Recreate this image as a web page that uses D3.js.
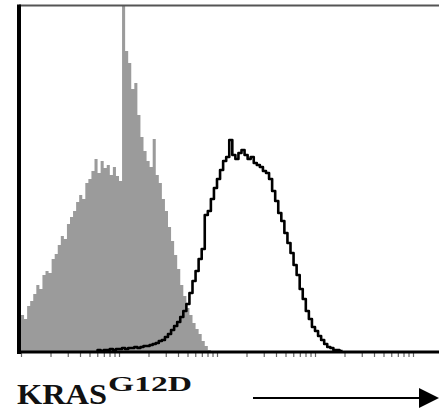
<!DOCTYPE html>
<html>
<head>
<meta charset="utf-8">
<script src="https://cdn.jsdelivr.net/npm/d3@7"></script>
<style>
  body { margin: 0; background: #fff; }
  svg { display: block; }
</style>
</head>
<body>
<script>
// histogram data, 8 channels per bin, 1024 channels = 4 decades
const binWidth = 8;
const grayStart = 0;     // isotype / control (filled)
const grayCounts = [36, 32, 45, 50, 57, 66, 62, 76, 80, 78, 92, 97, 106, 115, 112, 127,
    134, 140, 149, 156, 152, 168, 172, 180, 192, 178, 190, 183, 186, 176, 184, 175,
    170, 345, 300, 288, 262, 268, 236, 214, 200, 190, 184, 212, 176, 168, 152, 140,
    124, 110, 96, 82, 66, 55, 43, 36, 28, 22, 17, 10, 5, 1];
const blackStart = 200;  // KRAS G12D stained (open)
const blackCounts = [1, 0, 1, 1, 2, 1, 2, 2, 3, 2, 3, 3, 4, 3, 4, 5, 5, 6, 7, 8,
    10, 11, 14, 17, 21, 25, 29, 34, 40, 47, 58, 70, 80, 92, 102, 136, 140, 152, 163, 172,
    181, 190, 194, 211, 196, 192, 198, 201, 196, 192, 194, 188, 186, 184, 180, 178, 172, 160, 150, 138,
    130, 118, 108, 98, 86, 76, 62, 52, 40, 32, 24, 20, 15, 11, 7, 4, 3, 1, 1, 0];
const decades = [0, 1, 2, 3, 4];
const axisLabel = "KRAS";
const axisSup = "G12D";

const width = 439, height = 411;
const mLeft = 21, mTop = 6, mBottom = 351;

let svg = d3.select("body")
    .append("svg")
    .attr("width", width)
    .attr("height", height);

let x = d3.scaleLinear()
    .domain([0, 1024])
    .range([mLeft, mLeft + 392]);

let xLog = d3.scaleLog()
    .domain([1, 1e4])
    .range([mLeft, mLeft + 392]);

let y = d3.scaleLinear()
    .domain([0, 345])
    .range([mBottom, mTop]);

function toPoints(start, counts) {
    let pts = counts.map((c, i) => [start + i * binWidth, c]);
    pts.push([start + counts.length * binWidth, 0]);
    return pts;
}

svg.append("clipPath").attr("id", "plot")
    .append("rect")
    .attr("x", mLeft).attr("y", mTop)
    .attr("width", width - mLeft).attr("height", mBottom - mTop);

let plot = svg.append("g").attr("clip-path", "url(#plot)");

// filled grey histogram
plot.append("path")
    .datum(toPoints(grayStart, grayCounts))
    .attr("fill", "#9b9b9b")
    .attr("d", d3.area()
        .curve(d3.curveStepAfter)
        .x(d => x(d[0]))
        .y0(y(0))
        .y1(d => y(d[1])));

// open black histogram
plot.append("path")
    .datum([[blackStart, 0]].concat(toPoints(blackStart, blackCounts)))
    .attr("fill", "none")
    .attr("stroke", "#000")
    .attr("stroke-width", 2.6)
    .attr("stroke-linejoin", "round")
    .attr("d", d3.line()
        .curve(d3.curveStepAfter)
        .x(d => x(d[0]))
        .y(d => y(d[1])));

// log tick marks under the axis
let tickVals = [];
decades.forEach(p => {
    for (let m = 1; m <= 9; m++) tickVals.push(m * Math.pow(10, p));
});
let ax = svg.append("g")
    .attr("transform", "translate(0," + (mBottom + 2) + ")")
    .call(d3.axisBottom(xLog).tickValues(tickVals.filter(v => xLog(v) <= width)).tickSize(4).tickFormat(""));
ax.select(".domain").remove();
ax.selectAll("line").attr("stroke", "#666").attr("stroke-width", 1.2);

// frame
svg.append("line")
    .attr("x1", mLeft - 2).attr("x2", width)
    .attr("y1", mTop - 0.5).attr("y2", mTop - 0.5)
    .attr("stroke", "#555").attr("stroke-width", 2);
svg.append("line")
    .attr("x1", mLeft - 2).attr("x2", mLeft - 2)
    .attr("y1", mTop - 1.5).attr("y2", mBottom + 3)
    .attr("stroke", "#000").attr("stroke-width", 4);
svg.append("line")
    .attr("x1", mLeft - 4).attr("x2", width)
    .attr("y1", mBottom + 1).attr("y2", mBottom + 1)
    .attr("stroke", "#000").attr("stroke-width", 3);

// axis title
svg.append("text")
    .attr("x", 17).attr("y", 404)
    .attr("font-family", "'Liberation Serif', 'Times New Roman', serif")
    .attr("font-weight", "bold")
    .attr("font-size", 29)
    .attr("textLength", 90)
    .attr("lengthAdjust", "spacingAndGlyphs")
    .attr("fill", "#111")
    .text(axisLabel);
svg.append("text")
    .attr("x", 108).attr("y", 391)
    .attr("font-family", "'Liberation Serif', 'Times New Roman', serif")
    .attr("font-weight", "bold")
    .attr("font-size", 21)
    .attr("textLength", 84)
    .attr("lengthAdjust", "spacingAndGlyphs")
    .attr("fill", "#111")
    .text(axisSup);

// arrow
svg.append("line")
    .attr("x1", 253).attr("x2", 422)
    .attr("y1", 398).attr("y2", 398)
    .attr("stroke", "#000").attr("stroke-width", 2);
svg.append("path")
    .attr("d", "M419,388 L439,398 L419,408 Z")
    .attr("fill", "#000");
</script>
</body>
</html>
